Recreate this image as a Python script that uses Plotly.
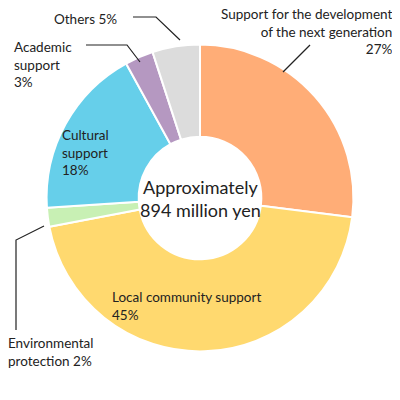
import plotly.graph_objects as go

labels = ["Support for the development of the next generation", "Local community support",
          "Environmental protection", "Cultural support", "Academic support", "Others"]
values = [27, 45, 2, 18, 3, 5]
colors = ["#FFAD77", "#FFD96F", "#C8F0B4", "#66CFEA", "#B598C1", "#DCDCDC"]

fig = go.Figure(go.Pie(
    labels=labels, values=values, hole=0.4, sort=False, direction="clockwise",
    rotation=0, textinfo="none", hoverinfo="label+percent",
    marker=dict(colors=colors, line=dict(color="white", width=2)),
    domain=dict(x=[0.0965, 0.8635], y=[0.1415, 0.9085]),
))

F = dict(family="Lato, Noto Sans, sans-serif", size=13.5, color="#222")
OFF = 8  # page body margin

def px(x, y):
    return (x - OFF) / 400, 1 - (y - OFF) / 400

def note(text, x, y, xa="left", ya="top", align="left", font=F):
    ax, ay = px(x, y)
    fig.add_annotation(text=text, x=ax, y=ay, xref="paper", yref="paper", showarrow=False,
                       xanchor=xa, yanchor=ya, align=align, font=font)

note("Support for the development<br>of the next generation<br>27%", 394, 4, xa="right", align="right")
note("Local community support<br>45%", 110, 287)
note("Environmental<br>protection 2%", 6, 333)
note("Cultural<br>support<br>18%", 60, 125)
note("Academic<br>support<br>3%", 12, 37)
note("Others 5%", 52, 9)
note("Approximately<br>894 million yen", 200, 198, xa="center", ya="middle", align="center",
     font=dict(family="Lato, Noto Sans, sans-serif", size=18, color="#222"))

def line(pts):
    path = "M " + " L ".join(f"{(p[0]-OFF)/400},{1-(p[1]-OFF)/400}" for p in pts)
    fig.add_shape(type="path", path=path, xref="paper", yref="paper",
                  line=dict(color="#222", width=1.2))

line([(133, 17), (156, 17), (180, 40)])
line([(86, 45), (127, 45), (140, 62)])
line([(310, 45), (283, 72)])
line([(44, 226), (16, 240), (16, 330)])

fig.update_layout(width=400, height=400, margin=dict(l=0, r=0, t=0, b=0),
                  showlegend=False, paper_bgcolor="white")
fig.write_html("out.html")
